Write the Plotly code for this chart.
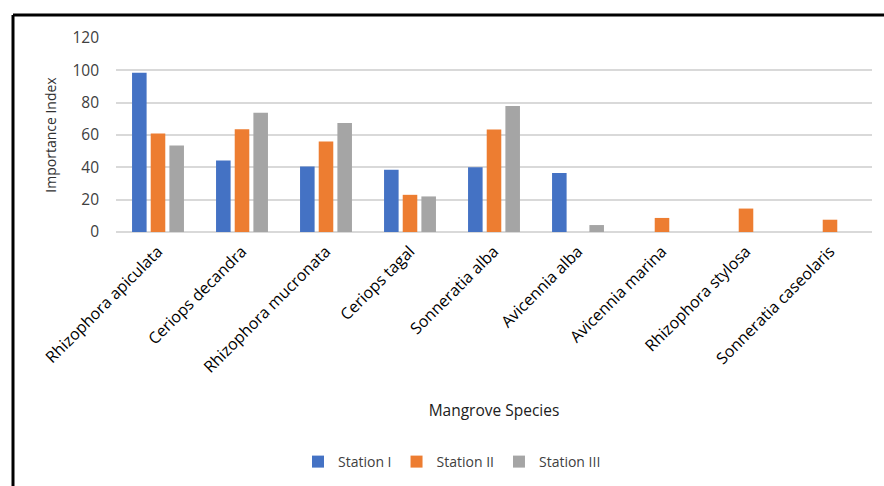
import plotly.graph_objects as go

species = ["Rhizophora apiculata", "Ceriops decandra", "Rhizophora mucronata", "Ceriops tagal",
           "Sonneratia alba", "Avicennia alba", "Avicennia marina", "Rhizophora stylosa",
           "Sonneratia caseolaris"]
station_1 = [98.5, 44.3, 40.5, 38.5, 40, 36.5, 0, 0, 0]
station_2 = [61, 63.5, 56, 23, 63.4, 0, 8.7, 14.5, 7.6]
station_3 = [53.5, 73.8, 67.5, 22, 78, 4.3, 0, 0, 0]
series_names = ["Station I", "Station II", "Station III"]
colors = ["#4472C4", "#ED7D31", "#A5A5A5"]

W, H = 884, 486
L, R, T, B = 116, 12, 38, 254
pw = W - L - R
ph = H - T - B

fig = go.Figure()
for name, vals, c in zip(series_names, [station_1, station_2, station_3], colors):
    fig.add_trace(go.Bar(name=name, x=species, y=vals, marker=dict(color=c, line=dict(width=0))))

font = "'Open Sans', sans-serif"
fig.update_layout(
    width=W, height=H,
    margin=dict(l=L, r=R, t=T, b=B, autoexpand=False),
    paper_bgcolor="white", plot_bgcolor="white",
    barmode="group", bargap=0.333, bargroupgap=0.22,
    font=dict(family=font, color="#404040"),
    legend=dict(orientation="h", x=(452 - L) / pw, xanchor="center",
                y=(T + ph - 462) / ph, yanchor="middle",
                font=dict(size=14, color="#404040"), itemwidth=30, traceorder="normal"),
    showlegend=True,
)
fig.update_yaxes(range=[0, 120], dtick=20, showgrid=True, gridcolor="#D9D9D9", gridwidth=1.5,
                 zeroline=True, zerolinecolor="#D9D9D9", zerolinewidth=1.5,
                 tickfont=dict(size=15.5, color="#404040"), ticks="", ticklabelstandoff=16,
                 title=dict(text="Importance Index", font=dict(size=14, color="#303030"), standoff=12))
fig.update_xaxes(tickangle=-45, tickfont=dict(size=16, color="#000000"), showgrid=False,
                 showline=False, ticks="", ticklabelstandoff=6,
                 title=dict(text="Mangrove Species", font=dict(size=15.5, color="#202020"), standoff=28))

# frame lines (black border at top and left of the chart image)
def px_x(x):
    return (x - L) / pw
def px_y(y):
    return (T + ph - y) / ph

fig.add_shape(type="line", xref="paper", yref="paper", x0=px_x(13), x1=px_x(890),
              y0=px_y(15), y1=px_y(15), line=dict(color="black", width=3))
fig.add_shape(type="line", xref="paper", yref="paper", x0=px_x(13), x1=px_x(13),
              y0=px_y(15), y1=px_y(495), line=dict(color="black", width=3))

fig.write_html("out.html")
